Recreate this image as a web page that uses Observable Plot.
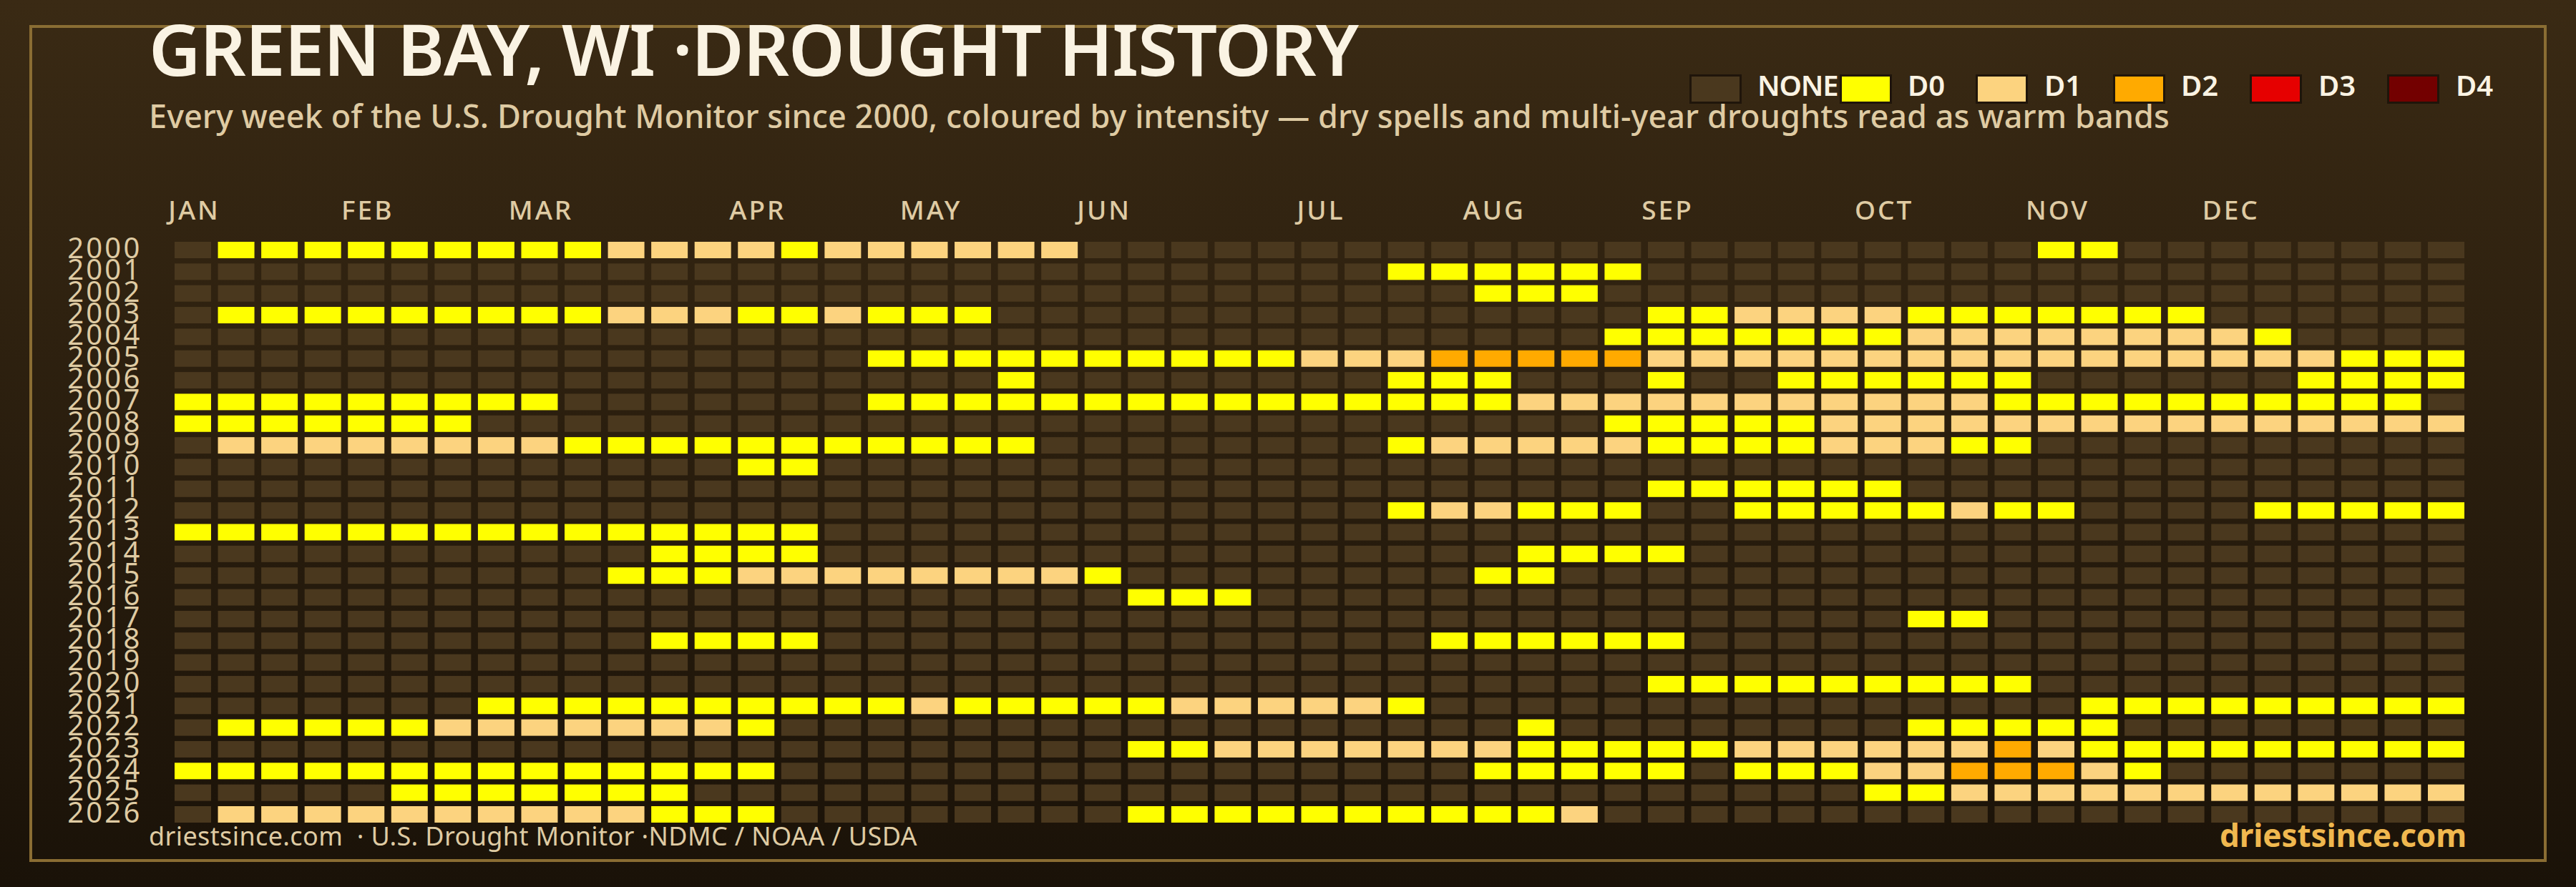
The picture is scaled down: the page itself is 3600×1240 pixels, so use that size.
<!DOCTYPE html>
<html>
<head>
<meta charset="utf-8">
<script src="https://cdn.jsdelivr.net/npm/d3@7"></script>
<script src="https://cdn.jsdelivr.net/npm/@observablehq/plot@0.6"></script>
<style>
  html,body{margin:0;padding:0;background:#1a1208;}
  #page{position:relative;width:3600px;height:1240px;overflow:hidden;
    background:linear-gradient(180deg,#3a2a14 0%,#1a1208 100%);font-family:"Noto Sans",sans-serif;}
  #frame{position:absolute;left:41px;top:35px;width:3510px;height:1162px;border:4px solid #8a6d33;}
  #page svg{position:absolute;left:0;top:0;}
  #page svg g[aria-label="y-axis tick label"]{letter-spacing:3.2px;}
  #page svg g[aria-label="x-axis tick label"]{letter-spacing:3px;}
  .t{position:absolute;white-space:pre;line-height:1;}
  #title{left:208px;top:17px;font-size:100px;font-weight:600;color:#faf3e3;}
  #subtitle{left:208px;top:139px;font-size:45px;font-weight:500;color:#dfcba3;}
  #source{left:208px;top:1151px;font-size:36px;font-weight:400;color:#dfcba3;}
  #brand{left:3102px;top:1145px;font-size:44px;font-weight:700;color:#f0b84f;}
  .sw{position:absolute;top:104px;width:73px;height:41px;box-sizing:border-box;border:3px solid #1f150a;}
  .lg{position:absolute;top:98.5px;font-size:40px;font-weight:600;color:#faf3e3;white-space:pre;line-height:1;}
</style>
</head>
<body>
<div id="page">
  <div id="frame"></div>
  <div id="plot"></div>
  <div class="t" id="title">GREEN BAY, WI ·DROUGHT HISTORY</div>
  <div class="t" id="subtitle">Every week of the U.S. Drought Monitor since 2000, coloured by intensity — dry spells and multi-year droughts read as warm bands</div>
  <div class="t" id="source">driestsince.com  · U.S. Drought Monitor ·NDMC / NOAA / USDA</div>
  <div class="t" id="brand">driestsince.com</div>
</div>
<script>
const years = ["2000","2001","2002","2003","2004","2005","2006","2007","2008","2009","2010","2011","2012","2013","2014","2015","2016","2017","2018","2019","2020","2021","2022","2023","2024","2025","2026"];
const levels = ["NONE","D0","D1","D2","D3","D4"];
const levelColors = ["#4a381e","#ffff00","#fcd37f","#ffaa00","#e60000","#730000"];
const monthNames = ["JAN","FEB","MAR","APR","MAY","JUN","JUL","AUG","SEP","OCT","NOV","DEC"];
const monthWeeks = [0,4,8,13,17,21,26,30,34,39,43,47];
const E = "..........";
// one string per year, one character per week: . none, 0-4 = D0-D4
const weeklyLevels = [
  ".000000000"+"1111011111"+"1........."+E+"...00....."+"...",
  E+E+"........00"+"0000......"+E+"...",
  E+E+E+"000......."+E+"...",
  ".000000000"+"111001000."+E+"....001111"+"0000000..."+"...",
  E+E+E+"...0000000"+"111111110."+"...",
  E+"......0000"+"0000001112"+"2222111111"+"1111111111"+"000",
  E+".........0"+"........00"+"0...0..000"+"000......0"+"000",
  "000000000."+"......0000"+"0000000000"+"0111111111"+"1100000000"+"00.",
  "0000000..."+E+E+"...0000011"+"1111111111"+"111",
  ".111111110"+"0000000000"+"........01"+"1111000011"+"100......."+"...",
  E+"...00....."+E+E+E+"...",
  E+E+E+"....000000"+E+"...",
  E+E+"........01"+"1000..0000"+"0100....00"+"000",
  "0000000000"+"00000....."+E+E+E+"...",
  E+".0000....."+E+".0000....."+E+"...",
  E+"0001111111"+"10........"+"00........"+E+"...",
  E+E+"..000....."+E+E+"...",
  E+E+E+E+"00........"+"...",
  E+".0000....."+".........0"+"00000....."+E+"...",
  E+E+E+E+E+"...",
  E+E+E+"....000000"+"000......."+"...",
  ".......000"+"0000000100"+"000111110."+E+"....000000"+"000",
  ".000001111"+"1110......"+E+".0........"+"00000....."+"...",
  E+E+"..00111111"+"1000001111"+"1121000000"+"000",
  "0000000000"+"0000......"+E+"00000.0001"+"122210...."+"...",
  ".....00000"+"00........"+E+".........0"+"0111111111"+"111",
  ".111111111"+"1000......"+"..00000000"+"001......."+E+"..."
];
const weeks = d3.range(53);
const cells = years.flatMap((year,r)=>weeks.map(w=>{
  const c = weeklyLevels[r][w];
  return {year, week:w, level: c==="." ? "NONE" : "D"+c};
}));
const monthOf = new Map(monthWeeks.map((w,i)=>[w,monthNames[i]]));

const chart = Plot.plot({
  width:3600, height:1240,
  marginLeft:244, marginRight:156, marginTop:338, marginBottom:90,
  style:{background:"transparent",fontFamily:"'Noto Sans', sans-serif"},
  x:{type:"band",domain:weeks,padding:0.158,paddingOuter:0,align:0,round:false},
  y:{type:"band",domain:years,padding:0.242,paddingOuter:0,align:0,round:false},
  color:{type:"ordinal",domain:levels,range:levelColors},
  marks:[
    Plot.cell(cells,{x:"week",y:"year",fill:"level"}),
    Plot.axisX({anchor:"top",ticks:monthWeeks,tickSize:0,tickPadding:32,fontSize:37,fontWeight:500,color:"#dfcba3",tickFormat:w=>monthOf.get(w),label:null,dx:1.5}),
    Plot.axisY({anchor:"left",tickSize:0,tickPadding:46,fontSize:40,fontWeight:400,color:"#dfcba3",label:null,dy:-2})
  ]
});
document.getElementById("plot").appendChild(chart);

// legend
const page = document.getElementById("page");
const swatchLeft = [2361,2571,2761,2953,3144,3336];
const labelLeft = [2456,2666,2857,3048,3240,3432];
levels.forEach((l,i)=>{
  const s=document.createElement("div");s.className="sw";s.style.left=swatchLeft[i]+"px";s.style.background=levelColors[i];page.appendChild(s);
  const t=document.createElement("div");t.className="lg";t.style.left=labelLeft[i]+"px";t.textContent=l;
  if(l==="NONE") t.style.letterSpacing="-1.2px";
  page.appendChild(t);
});

// stretch the running text to the reference's widths
const textWidths = {title:1690, subtitle:2824, source:1074, brand:345};
for (const id in textWidths) {
  const el = document.getElementById(id);
  const n = el.textContent.length;
  const w = el.getBoundingClientRect().width;
  el.style.letterSpacing = ((textWidths[id]-w)/n)+"px";
}
</script>
</body>
</html>
